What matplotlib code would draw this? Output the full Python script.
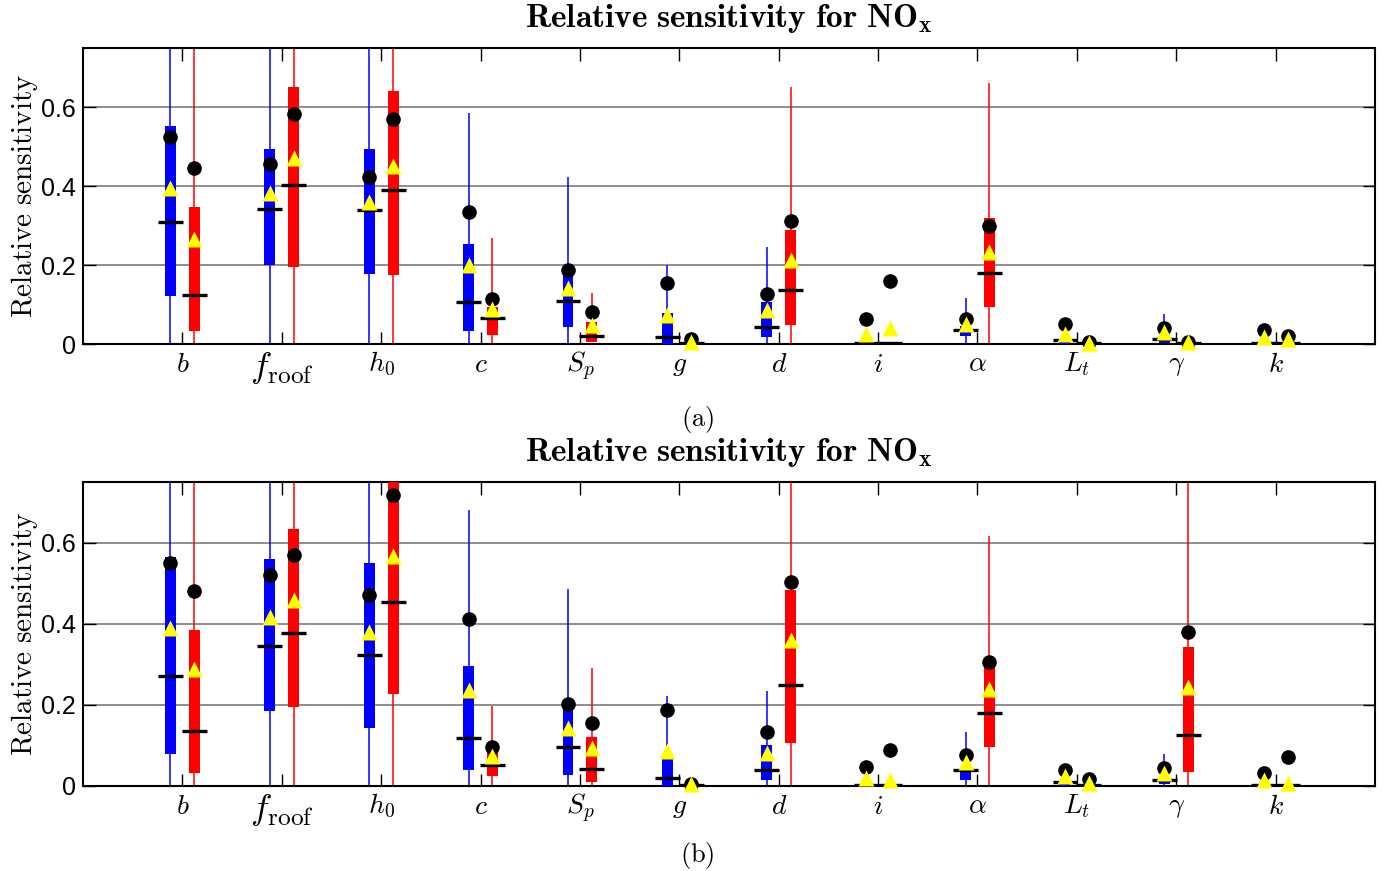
import numpy as np
import matplotlib
matplotlib.use('Agg')
import matplotlib.pyplot as plt

plt.rcParams['mathtext.fontset'] = 'cm'
plt.rcParams['axes.unicode_minus'] = False

params = [r'$b$', r'$f_{\rm roof}$', r'$h_0$', r'$c$', r'$S_p$', r'$g$',
          r'$d$', r'$i$', r'$\alpha$', r'$L_t$', r'$\gamma$', r'$k$']

# panel (a), blue series
a_blue_lo = [0, 0, 0, 0, 0, 0, 0, 0, 0, 0, 0, 0]
a_blue_hi = [0.9, 0.9, 0.9, 0.585, 0.422, 0.199, 0.245, 0.011, 0.116, 0.012, 0.077, 0.004]
a_blue_q1 = [0.122, 0.199, 0.178, 0.034, 0.043, 0.0, 0.017, 0.0, 0.021, 0.0, 0.003, 0.0]
a_blue_q3 = [0.553, 0.495, 0.495, 0.254, 0.188, 0.078, 0.107, 0.011, 0.045, 0.008, 0.015, 0.003]
a_blue_med = [0.310, 0.342, 0.340, 0.106, 0.108, 0.019, 0.044, 0.002, 0.036, 0.011, 0.013, 0.002]
a_blue_tri = [0.395, 0.382, 0.359, 0.199, 0.142, 0.074, 0.085, 0.026, 0.051, 0.026, 0.030, 0.019]
a_blue_dot = [0.525, 0.455, 0.424, 0.335, 0.187, 0.154, 0.127, 0.063, 0.063, 0.051, 0.041, 0.035]

# panel (a), red series
a_red_lo = [0, 0, 0, 0, 0.007, 0, 0, 0, 0, 0, 0, 0]
a_red_hi = [0.9, 0.9, 0.9, 0.269, 0.129, 0.002, 0.650, 0.003, 0.661, 0.002, 0.003, 0.002]
a_red_q1 = [0.033, 0.194, 0.174, 0.023, 0.005, 0.0, 0.049, 0.0, 0.093, 0.0, 0.0, 0.0]
a_red_q3 = [0.346, 0.652, 0.641, 0.095, 0.057, 0.002, 0.289, 0.005, 0.319, 0.002, 0.002, 0.002]
a_red_med = [0.125, 0.403, 0.390, 0.067, 0.020, 0.002, 0.136, 0.002, 0.180, 0.002, 0.002, 0.002]
a_red_tri = [0.266, 0.471, 0.452, 0.089, 0.049, 0.004, 0.213, 0.041, 0.233, 0.003, 0.005, 0.012]
a_red_dot = [0.445, 0.583, 0.569, 0.113, 0.081, 0.013, 0.312, 0.159, 0.300, 0.005, 0.006, 0.021]

# panel (b), blue series
b_blue_lo = [0, 0, 0, 0, 0, 0, 0, 0, 0, 0, 0, 0]
b_blue_hi = [0.9, 0.9, 0.9, 0.681, 0.487, 0.221, 0.234, 0.002, 0.132, 0.012, 0.080, 0.003]
b_blue_q1 = [0.078, 0.186, 0.143, 0.039, 0.027, 0.0, 0.014, 0.0, 0.015, 0.0, 0.005, 0.0]
b_blue_q3 = [0.565, 0.561, 0.551, 0.295, 0.200, 0.070, 0.101, 0.002, 0.040, 0.008, 0.020, 0.002]
b_blue_med = [0.271, 0.346, 0.323, 0.119, 0.095, 0.019, 0.040, 0.002, 0.040, 0.010, 0.015, 0.002]
b_blue_tri = [0.391, 0.416, 0.379, 0.236, 0.142, 0.086, 0.082, 0.019, 0.058, 0.025, 0.031, 0.014]
b_blue_dot = [0.551, 0.521, 0.472, 0.412, 0.203, 0.188, 0.132, 0.048, 0.076, 0.040, 0.045, 0.031]

# panel (b), red series
b_red_lo = [0, 0, 0, 0, 0, 0, 0, 0, 0, 0, 0, 0]
b_red_hi = [0.9, 0.9, 0.9, 0.198, 0.290, 0.002, 0.9, 0.002, 0.616, 0.002, 0.9, 0.002]
b_red_q1 = [0.032, 0.194, 0.226, 0.025, 0.011, 0.0, 0.107, 0.0, 0.097, 0.0, 0.034, 0.0]
b_red_q3 = [0.385, 0.635, 0.9, 0.095, 0.121, 0.002, 0.484, 0.002, 0.300, 0.002, 0.342, 0.002]
b_red_med = [0.135, 0.378, 0.454, 0.051, 0.041, 0.002, 0.249, 0.002, 0.179, 0.002, 0.127, 0.002]
b_red_tri = [0.288, 0.458, 0.568, 0.074, 0.093, 0.004, 0.360, 0.014, 0.239, 0.008, 0.244, 0.008]
b_red_dot = [0.481, 0.570, 0.717, 0.097, 0.156, 0.004, 0.504, 0.089, 0.307, 0.018, 0.380, 0.072]

panels = [
    ('(a)', [(a_blue_lo, a_blue_hi, a_blue_q1, a_blue_q3, a_blue_med, a_blue_tri, a_blue_dot, '#0000ff', -0.12),
             (a_red_lo, a_red_hi, a_red_q1, a_red_q3, a_red_med, a_red_tri, a_red_dot, '#ff0000', 0.12)]),
    ('(b)', [(b_blue_lo, b_blue_hi, b_blue_q1, b_blue_q3, b_blue_med, b_blue_tri, b_blue_dot, '#0000ff', -0.12),
             (b_red_lo, b_red_hi, b_red_q1, b_red_q3, b_red_med, b_red_tri, b_red_dot, '#ff0000', 0.12)]),
]

fig = plt.figure(figsize=(13.84, 8.71), dpi=100)
ax_rects = [[0.060, 0.605, 0.9335, 0.340], [0.060, 0.0976, 0.9335, 0.349]]
caption_y = [0.518, 0.018]

pos = np.arange(1, len(params) + 1)
for (tag, series), rect, cy in zip(panels, ax_rects, caption_y):
    ax = fig.add_axes(rect)
    ax.set_axisbelow(True)
    ax.grid(axis='y', color='#707070', lw=1.1)
    for lo, hi, q1, q3, med, tri, dot, col, off in series:
        x = pos + off
        ax.vlines(x, lo, hi, color=col, lw=1.1, zorder=2)
        ax.bar(x, np.array(q3) - np.array(q1), bottom=q1, width=0.11, color=col, zorder=3)
        ax.hlines(med, x - 0.125, x + 0.125, color='black', lw=2.4, zorder=4)
        ax.plot(x, dot, 'o', color='black', ms=9.5, zorder=5, clip_on=False)
        ax.plot(x, tri, '^', color='#ffff00', ms=12, mec='none', zorder=6, clip_on=False)
    ax.set_xlim(0, 13)
    ax.set_ylim(0, 0.75)
    ax.set_xticks(pos)
    ax.set_xticklabels(params, fontsize=20)
    # the roof subscript is set nearly full size in the original
    ax.get_xticklabels()[1].set_fontsize(26)
    ax.set_yticks([0, 0.2, 0.4, 0.6])
    ax.set_yticklabels(['0', '0.2', '0.4', '0.6'], fontsize=18, family='Liberation Sans')
    ax.tick_params(direction='in', length=9, width=1.0, top=True, right=True, color='black')
    ax.tick_params(axis='x', pad=4)
    ax.tick_params(axis='y', pad=5)
    for sp in ax.spines.values():
        sp.set_linewidth(1.5)
    ax.set_ylabel(r'$\mathrm{Relative\ sensitivity}$', fontsize=21, labelpad=1)
    ax.set_title(r'$\mathbf{Relative\ sensitivity\ for\ NO_x}$', fontsize=24, pad=15)
    fig.text(0.504, cy, r'$\mathrm{' + tag + '}$', fontsize=19, ha='center', va='center')

fig.savefig('out.png', dpi=100)
